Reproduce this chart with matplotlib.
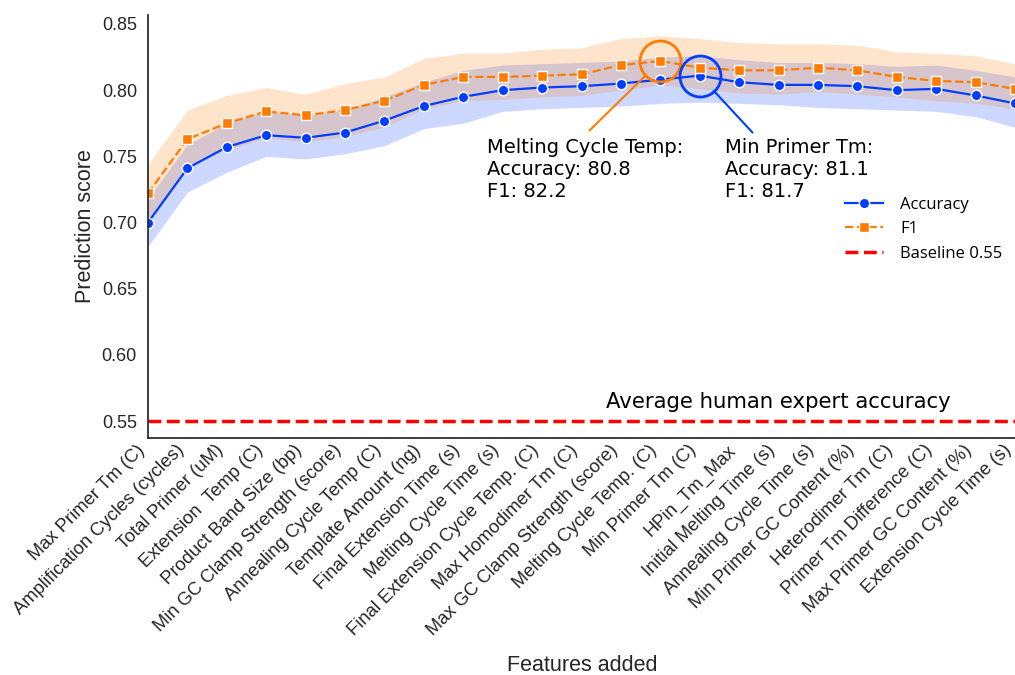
import matplotlib
matplotlib.use("Agg")
import matplotlib.pyplot as plt
import numpy as np

features = [
    "Max Primer Tm (C)", "Amplification Cycles (cycles)", "Total Primer (uM)",
    "Extension  Temp (C)", "Product Band Size (bp)", "Min GC Clamp Strength (score)",
    "Annealing Cycle Temp (C)", "Template Amount (ng)", "Final Extension Time (s)",
    "Melting Cycle Time (s)", "Final Extension Cycle Temp. (C)", "Max Homodimer Tm (C)",
    "Max GC Clamp Strength (score)", "Melting Cycle Temp. (C)", "Min Primer Tm (C)",
    "HPin_Tm_Max", "Initial Melting Time (s)", "Annealing Cycle Time (s)",
    "Min Primer GC Content (%)", "Heterodimer Tm (C)", "Primer Tm Difference (C)",
    "Max Primer GC Content (%)", "Extension Cycle Time (s)",
]

accuracy = [0.700, 0.741, 0.757, 0.766, 0.764, 0.768, 0.777, 0.788, 0.795, 0.800,
            0.802, 0.803, 0.805, 0.808, 0.811, 0.806, 0.804, 0.804, 0.803, 0.800,
            0.801, 0.796, 0.790]
accuracy_lo = [0.682, 0.723, 0.738, 0.750, 0.748, 0.752, 0.758, 0.771, 0.775, 0.784,
               0.786, 0.787, 0.788, 0.790, 0.791, 0.790, 0.789, 0.787, 0.786, 0.785,
               0.784, 0.780, 0.772]
accuracy_hi = [0.718, 0.759, 0.775, 0.784, 0.781, 0.785, 0.795, 0.806, 0.815, 0.819,
               0.820, 0.821, 0.822, 0.825, 0.826, 0.823, 0.821, 0.821, 0.820, 0.818,
               0.819, 0.815, 0.810]

f1 = [0.722, 0.763, 0.775, 0.784, 0.781, 0.785, 0.792, 0.804, 0.810, 0.810,
      0.811, 0.812, 0.819, 0.822, 0.817, 0.815, 0.815, 0.817, 0.815, 0.810,
      0.807, 0.806, 0.801]
f1_lo = [0.702, 0.743, 0.755, 0.764, 0.761, 0.765, 0.772, 0.786, 0.792, 0.793,
         0.795, 0.796, 0.800, 0.804, 0.801, 0.798, 0.797, 0.799, 0.797, 0.795,
         0.792, 0.790, 0.786]
f1_hi = [0.744, 0.785, 0.796, 0.802, 0.797, 0.805, 0.810, 0.824, 0.828, 0.828,
         0.831, 0.832, 0.839, 0.841, 0.839, 0.836, 0.835, 0.835, 0.834, 0.829,
         0.828, 0.826, 0.820]

baseline = 0.55
best_f1_idx = 13
best_acc_idx = 14

BLUE = "#023eff"
ORANGE = "#ff7c00"
RED = "#ff0000"
TEXT = "#262626"

x = np.arange(len(features))

fig = plt.figure(figsize=(10.15, 6.75), dpi=100)
ax = fig.add_axes([148 / 1015, (675 - 438) / 675, (1015 - 148) / 1015, (438 - 15) / 675])

ax.fill_between(x, accuracy_lo, accuracy_hi, color=BLUE, alpha=0.2, linewidth=0)
ax.fill_between(x, f1_lo, f1_hi, color=ORANGE, alpha=0.2, linewidth=0)

ax.plot(x, accuracy, color=BLUE, lw=1.6, marker="o", ms=7.5, mec="white", mew=1,
        label="Accuracy")
ax.plot(x, f1, color=ORANGE, lw=1.6, ls="--", marker="s", ms=7.5, mec="white", mew=1,
        label="F1")
ax.axhline(baseline, color=RED, lw=2.5, ls="--", label=f"Baseline {baseline}")

# highlight rings around the best F1 and best accuracy
ax.plot(best_f1_idx, f1[best_f1_idx], "o", ms=29.5, mfc="none", mec=ORANGE, mew=2)
ax.plot(best_acc_idx, accuracy[best_acc_idx], "o", ms=29.5, mfc="none", mec=BLUE, mew=2)

ax.annotate("", xy=(best_f1_idx, f1[best_f1_idx]), xytext=(-51, -50),
            textcoords="offset points",
            arrowprops=dict(arrowstyle="-", color=ORANGE, lw=1.5, shrinkA=0, shrinkB=14.8))
ax.annotate("", xy=(best_acc_idx, accuracy[best_acc_idx]), xytext=(38, -41),
            textcoords="offset points",
            arrowprops=dict(arrowstyle="-", color=BLUE, lw=1.5, shrinkA=0, shrinkB=14.8))

ax.text(8.60, 0.7635,
        f"Melting Cycle Temp:\nAccuracy: {accuracy[best_f1_idx]*100:.1f}\nF1: {f1[best_f1_idx]*100:.1f}",
        fontsize=14, family="DejaVu Sans", va="top", ha="left", color="black")
ax.text(14.65, 0.7635,
        f"Min Primer Tm:\nAccuracy: {accuracy[best_acc_idx]*100:.1f}\nF1: {f1[best_acc_idx]*100:.1f}",
        fontsize=14, family="DejaVu Sans", va="top", ha="left", color="black")

ax.text(16.0, 0.5642, "Average human expert accuracy", fontsize=15.3,
        family="DejaVu Sans", ha="center", va="center", color="black")

ax.set_xlim(0, len(features) - 1)
ax.set_ylim(0.5372, 0.8568)
yticks = [0.55, 0.60, 0.65, 0.70, 0.75, 0.80, 0.85]
ax.set_yticks(yticks)
ax.set_yticklabels([f"{v:.2f}" for v in yticks],
                   family="Liberation Sans", fontsize=13, color=TEXT)
ax.set_xticks(x)
ax.set_xticklabels(features, rotation=45, ha="right", family="Liberation Sans",
                   fontsize=13.2, color=TEXT)
ax.tick_params(axis="both", length=0)
ax.tick_params(axis="y", pad=8)
ax.tick_params(axis="x", pad=2.5)

ax.set_ylabel("Prediction score", family="Liberation Sans", fontsize=15.5, color=TEXT,
              labelpad=4)
ax.set_xlabel("Features added", family="Liberation Sans", fontsize=15.5, color=TEXT)
ax.xaxis.set_label_coords(0.501, -0.513)

for side in ("top", "right"):
    ax.spines[side].set_visible(False)
for side in ("left", "bottom"):
    ax.spines[side].set_color("#262626")
    ax.spines[side].set_linewidth(1.25)

leg = ax.legend(loc="upper left", bbox_to_anchor=(830 / 1015, 1 - 182 / 675),
                bbox_transform=fig.transFigure, frameon=False,
                prop={"family": "Open Sans", "size": 12}, handlelength=2.3,
                handletextpad=1.0, labelspacing=0.5)

fig.savefig("out.png", dpi=100)
